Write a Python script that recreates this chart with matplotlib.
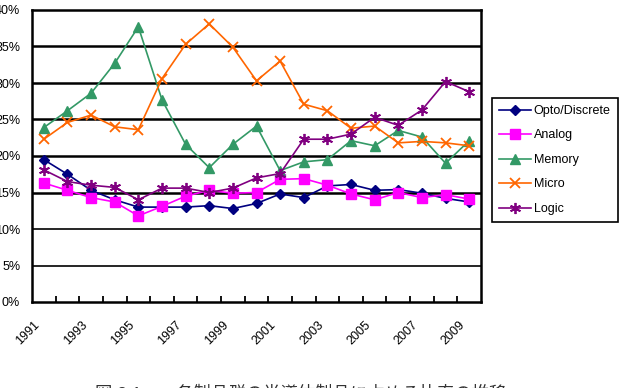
import matplotlib
matplotlib.use('Agg')
from matplotlib import pyplot as plt
from matplotlib.ticker import FixedLocator
from matplotlib.transforms import ScaledTranslation

plt.rcParams['font.family'] = ['Liberation Sans', 'Noto Sans CJK JP', 'DejaVu Sans']

years = list(range(1991, 2010))
opto = [19.5, 17.5, 15.3, 14.0, 13.0, 13.0, 13.0, 13.2, 12.8, 13.5, 14.8, 14.3, 15.9, 16.1, 15.3, 15.4, 14.9, 14.2, 13.7]
analog = [16.3, 15.3, 14.3, 13.7, 11.8, 13.1, 14.5, 15.3, 14.9, 15.0, 16.8, 16.9, 16.0, 14.8, 14.0, 15.0, 14.3, 14.7, 14.1]
memory = [23.9, 26.2, 28.6, 32.7, 37.7, 27.7, 21.6, 18.4, 21.6, 24.1, 18.0, 19.2, 19.5, 22.1, 21.4, 23.5, 22.6, 19.0, 22.1]
micro = [22.3, 24.6, 25.6, 24.0, 23.6, 30.6, 35.3, 38.1, 34.9, 30.3, 33.0, 27.1, 26.2, 23.8, 24.1, 21.8, 22.0, 21.8, 21.4]
logic = [18.1, 16.5, 16.0, 15.7, 14.0, 15.6, 15.6, 15.0, 15.6, 17.0, 17.6, 22.3, 22.3, 23.0, 25.3, 24.2, 26.3, 30.2, 28.8]
caption = '図 2.1　　各製品群の半導体製品に占める比率の推移'

fig = plt.figure(figsize=(6.2, 3.88), dpi=100)
ax = fig.add_axes([32/620, 86/388, 449/620, 292/388])

x = list(range(len(years)))
ax.plot(x, opto, color='#000080', marker='D', ms=5, lw=1.2, label='Opto/Discrete')
ax.plot(x, analog, color='#FF00FF', marker='s', ms=7, lw=1.2, label='Analog')
ax.plot(x, memory, color='#339966', marker='^', ms=7, lw=1.2, label='Memory')
ax.plot(x, micro, color='#FF6600', marker='x', ms=7, mew=1.3, lw=1.2, label='Micro')
ax.plot(x, logic, color='#800080', marker=(6, 2, 0), ms=8, mew=1.3, lw=1.2, label='Logic')

ax.set_xlim(-0.5, len(years) - 0.5)
ax.set_ylim(0, 40)

# horizontal grid, heavier in the upper part like the scan
for v in range(5, 40, 5):
	ax.axhline(v, color='black', lw=1.8 if v >= 15 else 1.2, zorder=0)

ax.set_yticks(range(0, 41, 5))
ax.set_yticklabels(['%d%%' % v for v in range(0, 41, 5)], fontsize=9)
ax.tick_params(axis='y', length=0, pad=8.5)

ax.set_xticks(x[::2])
ax.set_xticklabels([str(y) for y in years[::2]], rotation=45, ha='right', rotation_mode='anchor', fontsize=9)
ax.tick_params(axis='x', which='major', length=0, pad=10)
shift = ScaledTranslation(-0.1, -0.03, fig.dpi_scale_trans)
for lab in ax.get_xticklabels():
	lab.set_transform(lab.get_transform() + shift)
ax.xaxis.set_minor_locator(FixedLocator([i + 0.5 for i in range(len(years) - 1)]))
ax.tick_params(axis='x', which='minor', direction='in', length=4, width=1.3)

for s in ax.spines.values():
	s.set_linewidth(1.8)
	s.set_color('black')

leg = fig.legend(loc='upper left', bbox_to_anchor=(492/620, 1 - 98/388), fontsize=9,
	frameon=True, fancybox=False, edgecolor='black', framealpha=1,
	handlelength=2.6, labelspacing=1.0, borderpad=0.55, handletextpad=0.2, borderaxespad=0)
leg.get_frame().set_linewidth(1.2)

fig.text(95/620, 1 - 385/388, caption, fontsize=12.5, ha='left', va='top', color='#333333')

fig.savefig('out.png', dpi=100)
